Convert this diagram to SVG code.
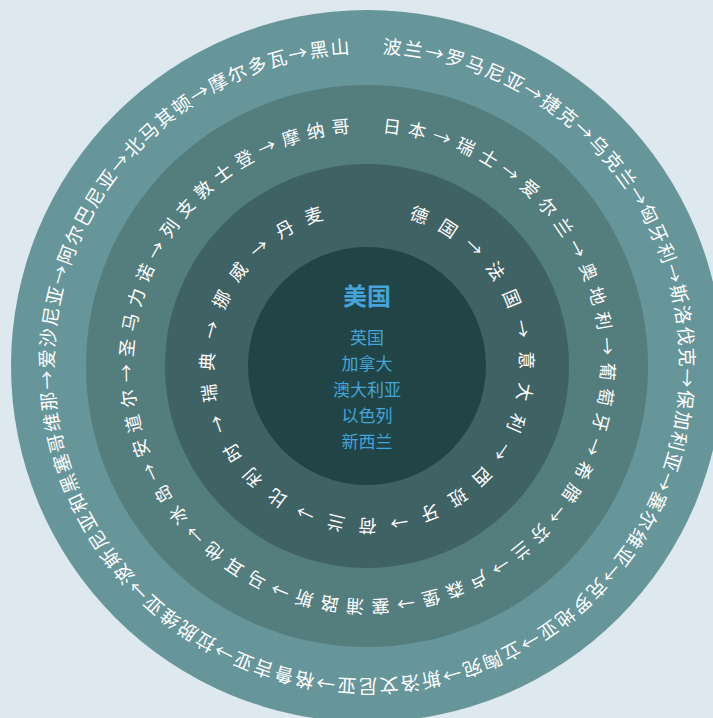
<svg xmlns="http://www.w3.org/2000/svg" xmlns:xlink="http://www.w3.org/1999/xlink" width="713" height="718" viewBox="0 0 713 718">
<style>
.ring{fill:#fff;font-family:"Noto Sans CJK SC","Noto Sans",sans-serif;}
.r1{font-size:19px;letter-spacing:1.8px;}
.r2{font-size:18px;letter-spacing:6.9px;}
.r3{font-size:18px;letter-spacing:12.64px;}
.c{fill:#45a5d8;font-family:"Noto Sans CJK SC","Noto Sans",sans-serif;text-anchor:middle;}
</style>
<defs>
<path id="p1" d="M367,53 A313,313 0 1 1 367,679 A313,313 0 1 1 367,53"/>
<path id="p2" d="M367,132 A234,234 0 1 1 367,600 A234,234 0 1 1 367,132"/>
<path id="p3" d="M367,213 A153,153 0 1 1 367,519 A153,153 0 1 1 367,213"/>
</defs>
<rect width="713" height="718" fill="#dde8ef"/>
<g id="ring-outer">
<circle cx="367" cy="366" r="356" fill="#66959a"/>
</g>
<g id="ring-middle">
<circle cx="367" cy="366" r="281" fill="#547d7e"/>
</g>
<g id="ring-inner">
<circle cx="367" cy="366" r="202" fill="#3f6264"/>
</g>
<g id="core">
<circle cx="367" cy="366" r="119" fill="#214446"/>
</g>
<g id="text-outer">
<text class="ring r1"><textPath xlink:href="#p1" href="#p1" startOffset="50%" text-anchor="middle">波兰→罗马尼亚→捷克→乌克兰→匈牙利→斯洛伐克→保加利亚→塞尔维亚→克罗地亚→立陶宛→斯洛文尼亚→格鲁吉亚→拉脱维亚→波斯尼亚和黑塞哥维那→爱沙尼亚→阿尔巴尼亚→北马其顿→摩尔多瓦→黑山</textPath></text>
</g>
<g id="text-middle">
<text class="ring r2"><textPath xlink:href="#p2" href="#p2" startOffset="737.5" text-anchor="middle">日本→瑞士→爱尔兰→奥地利→葡萄牙→希腊→芬兰→卢森堡→塞浦路斯→马耳他→冰岛→安道尔→圣马力诺→列支敦士登→摩纳哥</textPath></text>
</g>
<g id="text-inner">
<text class="ring r3"><textPath xlink:href="#p3" href="#p3" startOffset="486" text-anchor="middle">德国→法国→意大利→西班牙→荷兰→比利时→瑞典→挪威→丹麦</textPath></text>
</g>
<g id="center-text">
<text class="c" x="367" y="305" font-size="24" font-weight="bold">美国</text>
<text class="c" x="367" y="344" font-size="17">英国</text>
<text class="c" x="367" y="370" font-size="17">加拿大</text>
<text class="c" x="367" y="396" font-size="17">澳大利亚</text>
<text class="c" x="367" y="422" font-size="17">以色列</text>
<text class="c" x="367" y="448" font-size="17">新西兰</text>
</g>
</svg>
